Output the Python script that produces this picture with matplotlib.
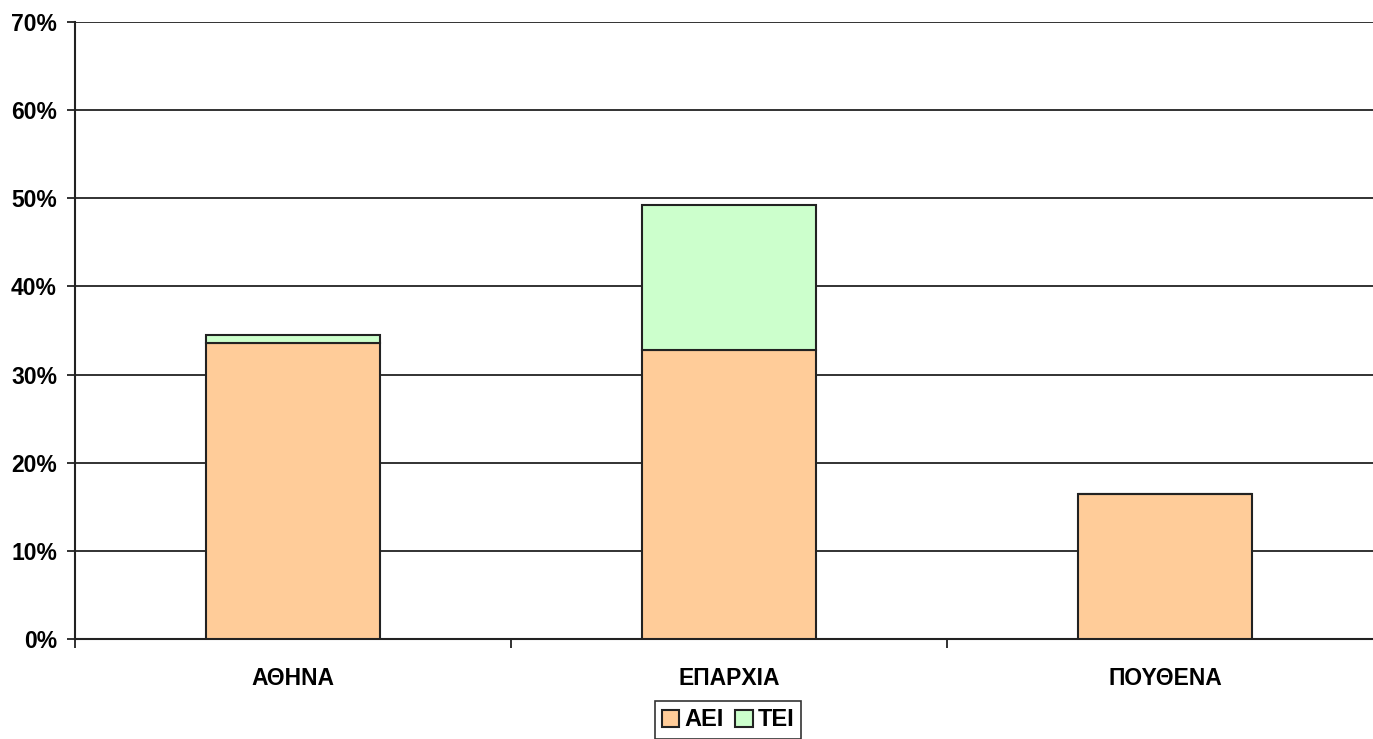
import matplotlib
matplotlib.use("Agg")
import matplotlib.pyplot as plt
from matplotlib.ticker import FuncFormatter

categories = ["ΑΘΗΝΑ", "ΕΠΑΡΧΙΑ", "ΠΟΥΘΕΝΑ"]
aei = [33.6, 32.8, 16.5]
tei = [0.9, 16.4, 0.0]
series_names = ["ΑΕΙ", "ΤΕΙ"]
yticks = [0, 10, 20, 30, 40, 50, 60, 70]

plt.rcParams['font.family'] = ['Liberation Sans', 'DejaVu Sans']

fig = plt.figure(figsize=(13.73, 7.39), dpi=100)
ax = fig.add_axes([75/1373, 100/739, (1383-75)/1373, 617/739])

x = list(range(len(categories)))
w = 0.40
ax.bar(x, aei, w, color="#FFCC99", edgecolor="#222222", linewidth=1.5, label=series_names[0], zorder=3)
ax.bar(x, tei, w, bottom=aei, color="#CCFFCC", edgecolor="#222222", linewidth=1.5, label=series_names[1], zorder=3)

ax.set_xlim(-0.5, 2.5)
ax.set_ylim(0, 70)
ax.set_yticks(yticks)
ax.yaxis.set_major_formatter(FuncFormatter(lambda v, p: f"{int(v)}%"))
ax.yaxis.grid(True, color="#222222", linewidth=1.3, zorder=0)
ax.set_axisbelow(True)

ax.set_xticks([-0.5, 0.5, 1.5, 2.5])
ax.set_xticklabels([])
ax.set_xticks(x, minor=True)
ax.set_xticklabels(categories, minor=True, fontsize=16.5, fontweight='bold')
ax.tick_params(axis='x', which='minor', length=0, pad=20)
ax.tick_params(axis='x', which='major', length=6.5, width=1.3, direction='out', color="#222222")
ax.tick_params(axis='y', length=6, width=1.3, direction='out', color="#222222", labelsize=16.5, pad=7)
for lab in ax.get_yticklabels():
    lab.set_fontweight('bold')

for s in ['top', 'right']:
    ax.spines[s].set_visible(False)
for s in ['left', 'bottom']:
    ax.spines[s].set_color("#222222")
    ax.spines[s].set_linewidth(1.5)

leg = fig.legend(loc='center', bbox_to_anchor=(728/1373, 1 - 720/739), ncol=2,
                 frameon=True, fancybox=False, edgecolor="#000000",
                 prop={'size': 17, 'weight': 'bold'}, handlelength=0.75, handleheight=0.75,
                 handletextpad=0.2, columnspacing=0.5, borderpad=0.3, borderaxespad=0)
leg.get_frame().set_linewidth(1.2)

fig.savefig("out.png", dpi=100)
